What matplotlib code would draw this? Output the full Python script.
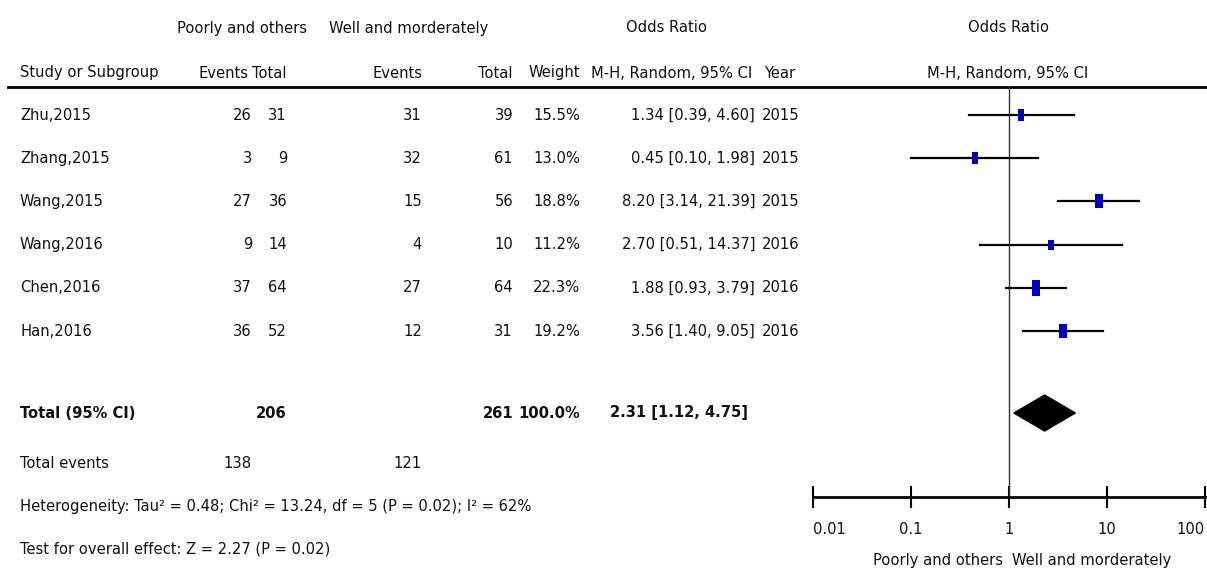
import numpy as np
import matplotlib
matplotlib.use("Agg")
import matplotlib.pyplot as plt
from matplotlib import font_manager
from matplotlib.patches import Polygon

# study data
studies = ["Zhu,2015", "Zhang,2015", "Wang,2015", "Wang,2016", "Chen,2016", "Han,2016"]
events_poor = [26, 3, 27, 9, 37, 36]
total_poor = [31, 9, 36, 14, 64, 52]
events_well = [31, 32, 15, 4, 27, 12]
total_well = [39, 61, 56, 10, 64, 31]
weights = [15.5, 13.0, 18.8, 11.2, 22.3, 19.2]
odds = [1.34, 0.45, 8.20, 2.70, 1.88, 3.56]
ci_low = [0.39, 0.10, 3.14, 0.51, 0.93, 1.40]
ci_high = [4.60, 1.98, 21.39, 14.37, 3.79, 9.05]
years = [2015, 2015, 2015, 2016, 2016, 2016]

pooled_or = 2.31
pooled_low = 1.12
pooled_high = 4.75
pooled_total_poor = 206
pooled_total_well = 261
total_events_poor = 138
total_events_well = 121
heterogeneity = "Heterogeneity: Tau² = 0.48; Chi² = 13.24, df = 5 (P = 0.02); I² = 62%"
overall = "Test for overall effect: Z = 2.27 (P = 0.02)"

axis_ticks = [0.01, 0.1, 1, 10, 100]
axis_labels = ["0.01", "0.1", "1", "10", "100"]

# look for a narrow font (the original uses Arial Narrow-like text)
narrow_reg = None
narrow_bold = None
for f in font_manager.fontManager.ttflist:
    name = f.name.lower()
    is_narrow = ('narrow' in name or 'condensed' in name or
                 str(f.stretch) in ('condensed', 'semi-condensed', 'extra-condensed', '500', '600')
                 or 'condensed' in f.fname.lower() or 'narrow' in f.fname.lower())
    if not is_narrow or f.style != 'normal':
        continue
    bold = f.weight in ('bold', 700, 600, 'semibold', 'demibold')
    if bold and narrow_bold is None:
        narrow_bold = f.fname
    if not bold and narrow_reg is None:
        narrow_reg = f.fname

if narrow_reg:
    fp = font_manager.FontProperties(fname=narrow_reg)
    fpb = font_manager.FontProperties(fname=narrow_bold or narrow_reg,
                                      weight='bold')
    fs = 11.8
else:
    fp = font_manager.FontProperties(family='Liberation Sans')
    fpb = font_manager.FontProperties(family='Liberation Sans', weight='bold')
    fs = 10.5

W, H = 1207, 584
fig = plt.figure(figsize=(W / 100, H / 100), dpi=100)
ax = fig.add_axes([0, 0, 1, 1])
ax.set_xlim(0, W)
ax.set_ylim(H, 0)
ax.axis('off')

tc = '#111111'

def txt(x, y, s, ha='left', bold=False):
    ax.text(x, y, s, ha=ha, va='center', fontproperties=fpb if bold else fp,
            fontsize=fs, color=tc)

# header
txt(242, 28, "Poorly and others", ha='center')
txt(409, 28, "Well and morderately", ha='center')
txt(666, 28, "Odds Ratio", ha='center')
txt(1008, 28, "Odds Ratio", ha='center')
txt(20, 73, "Study or Subgroup")
txt(249, 73, "Events", ha='right')
txt(287, 73, "Total", ha='right')
txt(422, 73, "Events", ha='right')
txt(513, 73, "Total", ha='right')
txt(580, 73, "Weight", ha='right')
txt(752, 73, "M-H, Random, 95% CI", ha='right')
txt(764, 73, "Year")
txt(1008, 73, "M-H, Random, 95% CI", ha='center')
ax.plot([8, W], [87, 87], color='black', lw=2)

row_y = 115 + 43.2 * np.arange(len(studies))
for i, y in enumerate(row_y):
    txt(20, y, studies[i])
    txt(252, y, str(events_poor[i]), ha='right')
    txt(287, y, str(total_poor[i]), ha='right')
    txt(422, y, str(events_well[i]), ha='right')
    txt(513, y, str(total_well[i]), ha='right')
    txt(580, y, f"{weights[i]:.1f}%", ha='right')
    txt(755, y, f"{odds[i]:.2f} [{ci_low[i]:.2f}, {ci_high[i]:.2f}]", ha='right')
    txt(762, y, str(years[i]))

ty = 413
txt(20, ty, "Total (95% CI)", bold=True)
txt(287, ty, str(pooled_total_poor), ha='right', bold=True)
txt(513, ty, str(pooled_total_well), ha='right', bold=True)
txt(580, ty, "100.0%", ha='right', bold=True)
txt(748, ty, f"{pooled_or:.2f} [{pooled_low:.2f}, {pooled_high:.2f}]", ha='right', bold=True)
txt(20, 463, "Total events")
txt(252, 463, str(total_events_poor), ha='right')
txt(422, 463, str(total_events_well), ha='right')
txt(20, 507, heterogeneity)
txt(20, 549, overall)

# forest panel
fx = fig.add_axes([813 / W, 0, 392 / W, 1])
fx.set_xscale('log')
fx.set_xlim(0.01, 100)
fx.set_ylim(H, 0)
fx.patch.set_alpha(0)
for s in ['top', 'left', 'right']:
    fx.spines[s].set_visible(False)
fx.spines['bottom'].set_position(('data', 497))
fx.spines['bottom'].set_linewidth(2)
fx.set_yticks([])
fx.set_xticks(axis_ticks)
fx.set_xticklabels(axis_labels)
fx.xaxis.set_minor_locator(matplotlib.ticker.NullLocator())
fx.tick_params(axis='x', direction='inout', length=16, width=1.5, pad=10,
               labelcolor=tc)
labels = fx.get_xticklabels()
for lab in labels:
    lab.set_fontproperties(fp)
    lab.set_fontsize(fs)
labels[0].set_horizontalalignment('left')
labels[-1].set_horizontalalignment('right')

fx.plot([1, 1], [87, 497], color='#333333', lw=1)

rect = [(-0.5, -1), (0.5, -1), (0.5, 1), (-0.5, 1), (-0.5, -1)]
for i, y in enumerate(row_y):
    fx.plot([ci_low[i], ci_high[i]], [y, y], color='black', lw=1.6)
    h_px = 0.54 * weights[i] + 4
    fx.plot(odds[i], y, marker=rect, markersize=h_px * 0.72,
            color='#0000c0', markeredgewidth=0, linestyle='none')

diamond = Polygon([(pooled_low, ty), (pooled_or, ty - 18),
                   (pooled_high, ty), (pooled_or, ty + 18)],
                  closed=True, color='black')
fx.add_patch(diamond)

ax.text(938, 560, "Poorly and others", ha='center', va='center',
        fontproperties=fp, fontsize=fs, color=tc)
ax.text(1092, 560, "Well and morderately", ha='center', va='center',
        fontproperties=fp, fontsize=fs, color=tc)

fig.savefig("out.png", dpi=100)
